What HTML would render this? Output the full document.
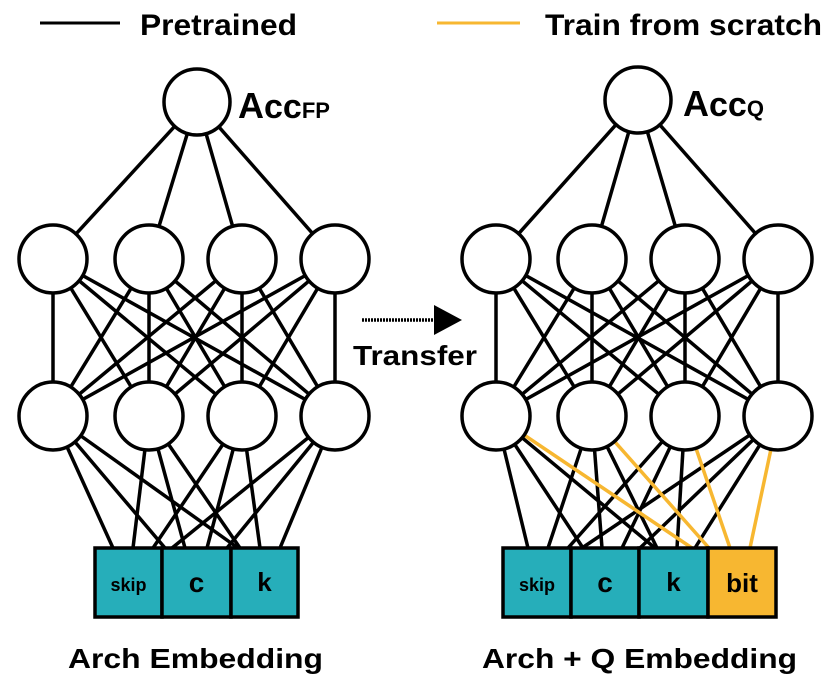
<!DOCTYPE html>
<html><head><meta charset="utf-8"><style>
html,body{margin:0;padding:0;background:#fff}
svg{display:block}
text{font-family:"Liberation Sans",Arial,sans-serif;font-weight:bold;fill:#000}
</style></head><body>
<svg width="840" height="679" viewBox="0 0 840 679" xmlns="http://www.w3.org/2000/svg">
<line x1="40" y1="23" x2="120" y2="23" stroke="#000" stroke-width="3"/>
<text x="140" y="35" font-size="30" textLength="157" lengthAdjust="spacingAndGlyphs">Pretrained</text>
<line x1="437" y1="23" x2="520" y2="23" stroke="#F7B731" stroke-width="3"/>
<text x="545" y="35" font-size="30" textLength="277" lengthAdjust="spacingAndGlyphs">Train from scratch</text>

<g stroke="#000" stroke-width="3.5" fill="none">
<line x1="197" y1="102" x2="53" y2="259"/><line x1="197" y1="102" x2="149" y2="259"/>
<line x1="197" y1="102" x2="242" y2="259"/><line x1="197" y1="102" x2="335" y2="259"/>
<line x1="53" y1="259" x2="53" y2="416"/><line x1="53" y1="259" x2="149" y2="416"/><line x1="53" y1="259" x2="242" y2="416"/><line x1="53" y1="259" x2="335" y2="416"/>
<line x1="149" y1="259" x2="53" y2="416"/><line x1="149" y1="259" x2="149" y2="416"/><line x1="149" y1="259" x2="242" y2="416"/><line x1="149" y1="259" x2="335" y2="416"/>
<line x1="242" y1="259" x2="53" y2="416"/><line x1="242" y1="259" x2="149" y2="416"/><line x1="242" y1="259" x2="242" y2="416"/><line x1="242" y1="259" x2="335" y2="416"/>
<line x1="335" y1="259" x2="53" y2="416"/><line x1="335" y1="259" x2="149" y2="416"/><line x1="335" y1="259" x2="242" y2="416"/><line x1="335" y1="259" x2="335" y2="416"/>
<line x1="53" y1="416" x2="113" y2="548"/><line x1="53" y1="416" x2="165" y2="548"/><line x1="53" y1="416" x2="238" y2="548"/>
<line x1="149" y1="416" x2="133" y2="548"/><line x1="149" y1="416" x2="185" y2="548"/><line x1="149" y1="416" x2="240" y2="548"/>
<line x1="242" y1="416" x2="153" y2="548"/><line x1="242" y1="416" x2="207" y2="548"/><line x1="242" y1="416" x2="260" y2="548"/>
<line x1="335" y1="416" x2="172" y2="548"/><line x1="335" y1="416" x2="227" y2="548"/><line x1="335" y1="416" x2="280" y2="548"/>

<line x1="638" y1="100" x2="496" y2="259"/><line x1="638" y1="100" x2="592" y2="259"/>
<line x1="638" y1="100" x2="685" y2="259"/><line x1="638" y1="100" x2="778" y2="259"/>
<line x1="496" y1="259" x2="496" y2="416"/><line x1="496" y1="259" x2="592" y2="416"/><line x1="496" y1="259" x2="685" y2="416"/><line x1="496" y1="259" x2="778" y2="416"/>
<line x1="592" y1="259" x2="496" y2="416"/><line x1="592" y1="259" x2="592" y2="416"/><line x1="592" y1="259" x2="685" y2="416"/><line x1="592" y1="259" x2="778" y2="416"/>
<line x1="685" y1="259" x2="496" y2="416"/><line x1="685" y1="259" x2="592" y2="416"/><line x1="685" y1="259" x2="685" y2="416"/><line x1="685" y1="259" x2="778" y2="416"/>
<line x1="778" y1="259" x2="496" y2="416"/><line x1="778" y1="259" x2="592" y2="416"/><line x1="778" y1="259" x2="685" y2="416"/><line x1="778" y1="259" x2="778" y2="416"/>
<line x1="496" y1="416" x2="528" y2="548"/><line x1="496" y1="416" x2="583" y2="548"/><line x1="496" y1="416" x2="655" y2="548"/>
<line x1="592" y1="416" x2="548" y2="548"/><line x1="592" y1="416" x2="602" y2="548"/><line x1="592" y1="416" x2="657" y2="548"/>
<line x1="685" y1="416" x2="568" y2="548"/><line x1="685" y1="416" x2="622" y2="548"/><line x1="685" y1="416" x2="677" y2="548"/>
<line x1="778" y1="416" x2="582" y2="548"/><line x1="778" y1="416" x2="640" y2="548"/><line x1="778" y1="416" x2="695" y2="548"/>
</g>
<g stroke="#F7B731" stroke-width="3.5">
<line x1="496" y1="416" x2="692" y2="548"/>
<line x1="592" y1="416" x2="709" y2="548"/>
<line x1="685" y1="416" x2="730" y2="548"/>
<line x1="778" y1="416" x2="750" y2="548"/>
</g>

<g fill="#fff" stroke="#000" stroke-width="3.5">
<circle cx="197" cy="102" r="33"/>
<circle cx="53" cy="259" r="34"/><circle cx="149" cy="259" r="34"/><circle cx="242" cy="259" r="34"/><circle cx="335" cy="259" r="34"/>
<circle cx="53" cy="416" r="34"/><circle cx="149" cy="416" r="34"/><circle cx="242" cy="416" r="34"/><circle cx="335" cy="416" r="34"/>
<circle cx="638" cy="100" r="33"/>
<circle cx="496" cy="259" r="34"/><circle cx="592" cy="259" r="34"/><circle cx="685" cy="259" r="34"/><circle cx="778" cy="259" r="34"/>
<circle cx="496" cy="416" r="34"/><circle cx="592" cy="416" r="34"/><circle cx="685" cy="416" r="34"/><circle cx="778" cy="416" r="34"/>
</g>

<g stroke="#000" stroke-width="3.5">
<rect x="95" y="548" width="67" height="69" fill="#26AEBA"/>
<rect x="162" y="548" width="69" height="69" fill="#26AEBA"/>
<rect x="231" y="548" width="67" height="69" fill="#26AEBA"/>
<rect x="503" y="548" width="68" height="69" fill="#26AEBA"/>
<rect x="571" y="548" width="68" height="69" fill="#26AEBA"/>
<rect x="639" y="548" width="69" height="69" fill="#26AEBA"/>
<rect x="708" y="548" width="68" height="69" fill="#F7B731"/>
</g>
<text x="128.5" y="591" font-size="18" text-anchor="middle">skip</text>
<text x="196.5" y="592" font-size="28" text-anchor="middle">c</text>
<text x="264.5" y="591" font-size="26" text-anchor="middle">k</text>
<text x="537" y="591" font-size="18" text-anchor="middle">skip</text>
<text x="605" y="592" font-size="28" text-anchor="middle">c</text>
<text x="673.5" y="591" font-size="26" text-anchor="middle">k</text>
<text x="742" y="592" font-size="26" text-anchor="middle">bit</text>

<text x="238" y="118" font-size="36">A<tspan font-size="34">cc</tspan><tspan font-size="22">FP</tspan></text>
<text x="683" y="116" font-size="36">A<tspan font-size="34">cc</tspan><tspan font-size="22">Q</tspan></text>

<line x1="362" y1="320" x2="440" y2="320" stroke="#000" stroke-width="3.5" stroke-dasharray="2 1"/>
<polygon points="434,305 462,320 434,335" fill="#000"/>
<text x="353" y="365" font-size="28" textLength="124" lengthAdjust="spacingAndGlyphs">Transfer</text>

<text x="68" y="668" font-size="28" textLength="255" lengthAdjust="spacingAndGlyphs">Arch Embedding</text>
<text x="482" y="668" font-size="28" textLength="315" lengthAdjust="spacingAndGlyphs">Arch + Q Embedding</text>
</svg>
</body></html>
